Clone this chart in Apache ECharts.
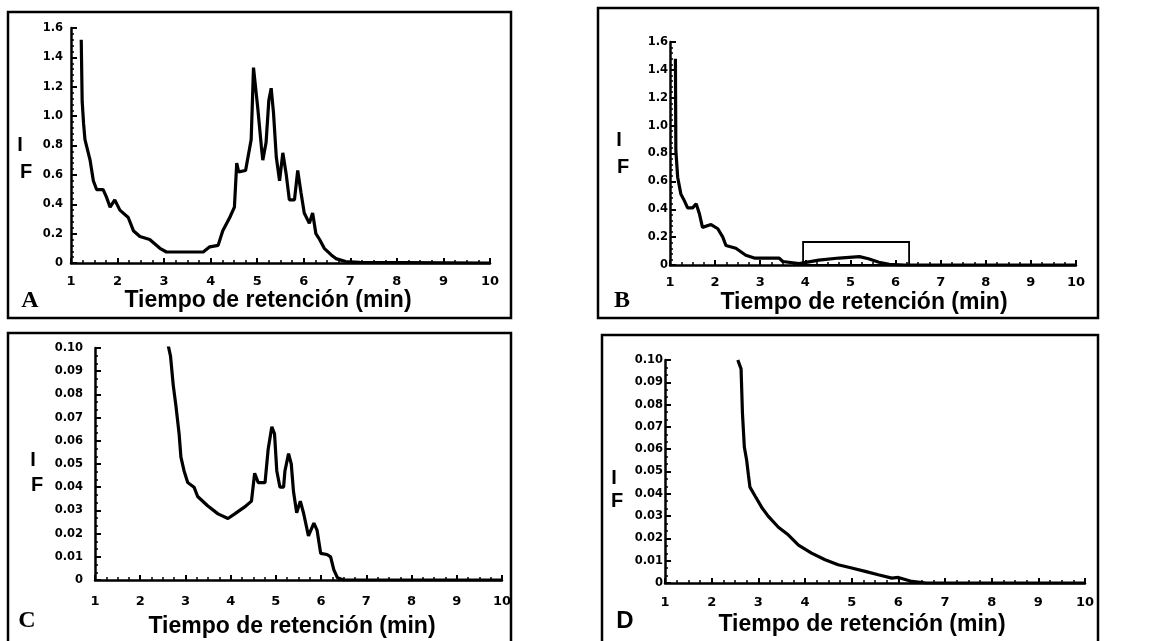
<!DOCTYPE html>
<html>
<head>
<meta charset="utf-8">
<script src="https://cdn.jsdelivr.net/npm/echarts@6/dist/echarts.min.js"></script>
<style>html,body{margin:0;padding:0;background:#fff}#c{width:1156px;height:641px}</style>
</head>
<body>
<div id="c"></div>
<script>
// ---- Data ----
const xTicks = [1, 2, 3, 4, 5, 6, 7, 8, 9, 10];
const yTicksAB = [0, 0.2, 0.4, 0.6, 0.8, 1.0, 1.2, 1.4, 1.6];
const yTicksCD = [0, 0.01, 0.02, 0.03, 0.04, 0.05, 0.06, 0.07, 0.08, 0.09, 0.10];

const timeA = [1.22, 1.24, 1.27, 1.30, 1.41, 1.48, 1.55, 1.69, 1.76, 1.84, 1.94, 2.05, 2.23, 2.34, 2.48, 2.69, 2.91, 3.05, 3.84, 3.98, 4.16, 4.26, 4.41, 4.51, 4.56, 4.60, 4.75, 4.87, 4.92, 4.96, 5.01, 5.09, 5.12, 5.19, 5.25, 5.30, 5.35, 5.41, 5.48, 5.55, 5.62, 5.69, 5.80, 5.87, 5.94, 6.01, 6.12, 6.19, 6.26, 6.34, 6.44, 6.59, 6.69, 6.90, 7.2, 10];
const ifA   = [1.52, 1.10, 0.95, 0.84, 0.70, 0.56, 0.50, 0.50, 0.45, 0.38, 0.43, 0.36, 0.31, 0.22, 0.18, 0.16, 0.10, 0.075, 0.075, 0.11, 0.12, 0.22, 0.31, 0.38, 0.68, 0.62, 0.63, 0.84, 1.33, 1.32, 1.06, 0.79, 0.70, 0.82, 1.11, 1.19, 1.02, 0.72, 0.56, 0.75, 0.61, 0.43, 0.43, 0.63, 0.48, 0.34, 0.27, 0.34, 0.20, 0.16, 0.10, 0.055, 0.03, 0.01, 0.004, 0];

const timeB = [1.12, 1.13, 1.17, 1.24, 1.32, 1.39, 1.50, 1.58, 1.65, 1.72, 1.91, 2.06, 2.17, 2.24, 2.46, 2.68, 2.87, 3.42, 3.50, 3.86, 4.30, 4.75, 5.20, 5.40, 5.63, 5.86, 6.2, 10];
const ifB   = [1.48, 0.82, 0.63, 0.51, 0.46, 0.41, 0.41, 0.44, 0.37, 0.27, 0.29, 0.26, 0.20, 0.14, 0.12, 0.07, 0.05, 0.05, 0.025, 0.01, 0.035, 0.05, 0.06, 0.045, 0.02, 0.005, 0, 0];
const boxB  = [3.95, 6.3, 0.165];

const timeC = [2.62, 2.67, 2.73, 2.79, 2.86, 2.90, 2.97, 3.05, 3.19, 3.27, 3.49, 3.72, 3.94, 4.09, 4.31, 4.46, 4.53, 4.61, 4.76, 4.83, 4.91, 4.97, 5.02, 5.09, 5.17, 5.20, 5.28, 5.34, 5.39, 5.46, 5.54, 5.61, 5.72, 5.84, 5.91, 5.99, 6.13, 6.21, 6.28, 6.36, 6.5, 10];
const ifC   = [0.101, 0.0965, 0.084, 0.075, 0.063, 0.053, 0.047, 0.042, 0.040, 0.036, 0.032, 0.0285, 0.0265, 0.0285, 0.0315, 0.034, 0.046, 0.042, 0.042, 0.0565, 0.066, 0.063, 0.047, 0.040, 0.040, 0.047, 0.0545, 0.050, 0.038, 0.029, 0.034, 0.029, 0.019, 0.0245, 0.0215, 0.0115, 0.011, 0.010, 0.0045, 0.001, 0, 0];

const timeD = [2.56, 2.63, 2.66, 2.70, 2.75, 2.79, 2.82, 2.93, 3.07, 3.21, 3.43, 3.64, 3.86, 4.14, 4.43, 4.71, 5.00, 5.29, 5.57, 5.86, 6.00, 6.29, 6.6, 10];
const ifD   = [0.100, 0.096, 0.076, 0.061, 0.055, 0.048, 0.043, 0.039, 0.034, 0.030, 0.025, 0.0216, 0.017, 0.0134, 0.0104, 0.0082, 0.0067, 0.0052, 0.0037, 0.0022, 0.0025, 0.0007, 0, 0];

const xTitle = 'Tiempo de retención (min)';
const panelLetters = ['A', 'B', 'C', 'D'];

// ---- Chart ----
const pairs = (xs, ys) => xs.map((x, i) => [x, ys[i]]);
const tickFont = 'DejaVu Sans';
const grids = [
  {left: 71, right: 666, top: 28, bottom: 378},
  {left: 670, right: 80, top: 42, bottom: 376},
  {left: 95, right: 654, top: 348, bottom: 61},
  {left: 665, right: 71, top: 360, bottom: 58}
];
const xLabelMargins = [12, 11, 15, 13];
const yLabelMargins = [8, 2, 12, 2];

function xAxis(i) {
  return {
    type: 'value', gridIndex: i, min: xTicks[0], max: xTicks[xTicks.length - 1], interval: 1,
    axisLine: {lineStyle: {color: '#000', width: 2.5}},
    axisTick: {show: true, inside: true, length: 5, lineStyle: {color: '#000', width: 2}},
    minorTick: {show: true, splitNumber: 4, length: 3, lineStyle: {color: '#000', width: 1.5}},
    splitLine: {show: false},
    axisLabel: {color: '#000', fontFamily: tickFont, fontWeight: 'bold', fontSize: 13, margin: xLabelMargins[i],
      formatter: v => String(v)}
  };
}
function yAxis(i) {
  const ab = i < 2;
  const ticks = ab ? yTicksAB : yTicksCD;
  return {
    type: 'value', gridIndex: i, min: 0, max: ticks[ticks.length - 1], interval: ab ? 0.2 : 0.01,
    axisLine: {show: true, lineStyle: {color: '#000', width: 2.5}},
    axisTick: {show: true, inside: true, length: 6, lineStyle: {color: '#000', width: 2}},
    minorTick: {show: true, splitNumber: ab ? 5 : 3, length: 3, lineStyle: {color: '#000', width: 1.5}},
    splitLine: {show: false},
    axisLabel: {color: '#000', fontFamily: tickFont, fontWeight: 'bold', fontSize: 11.5, margin: yLabelMargins[i],
      formatter: v => v === 0 ? '0' : (ab ? v.toFixed(1) : v.toFixed(2))}
  };
}
const lineStyle = {color: '#000', width: 3.2};
function series(i, xs, ys, extra) {
  return Object.assign({
    type: 'line', xAxisIndex: i, yAxisIndex: i, data: pairs(xs, ys),
    showSymbol: false, symbol: 'none', lineStyle: lineStyle, silent: true, animation: false, z: 3
  }, extra || {});
}

const frames = [
  {x: 8, y: 12, w: 503, h: 306},
  {x: 598, y: 8, w: 500, h: 310},
  {x: 8, y: 333, w: 503, h: 310},
  {x: 602, y: 335, w: 496, h: 308}
];
const titlePos = [[268, 301], [864, 303], [292, 627], [862, 625]];
const letterPos = [[30, 301], [622, 301], [27, 621], [625, 621]];
const letterFonts = ['Liberation Serif', 'Liberation Serif', 'Liberation Serif', 'Liberation Sans'];
const iPos = [[20, 145], [619, 140], [33, 460], [614, 478]];
const fPos = [[26, 172], [623, 167], [37, 485], [617, 501]];

const graphic = [];
frames.forEach(f => graphic.push({type: 'rect', shape: {x: f.x, y: f.y, width: f.w, height: f.h},
  style: {fill: 'none', stroke: '#000', lineWidth: 2.5}, silent: true, z: 1}));
titlePos.forEach(p => graphic.push({type: 'text', x: p[0], y: p[1],
  style: {text: xTitle, font: 'bold 23px "Liberation Sans"', fill: '#000', textAlign: 'center', textVerticalAlign: 'middle'}}));
letterPos.forEach((p, i) => graphic.push({type: 'text', x: p[0], y: p[1],
  style: {text: panelLetters[i], font: 'bold 24px "' + letterFonts[i] + '"', fill: '#000', textAlign: 'center', textVerticalAlign: 'middle'}}));
iPos.forEach(p => graphic.push({type: 'text', x: p[0], y: p[1],
  style: {text: 'I', font: 'bold 20px "Liberation Sans"', fill: '#000', textAlign: 'center', textVerticalAlign: 'middle'}}));
fPos.forEach(p => graphic.push({type: 'text', x: p[0], y: p[1],
  style: {text: 'F', font: 'bold 20px "Liberation Sans"', fill: '#000', textAlign: 'center', textVerticalAlign: 'middle'}}));

const option = {
  backgroundColor: '#fff',
  animation: false,
  grid: grids,
  xAxis: [0, 1, 2, 3].map(xAxis),
  yAxis: [0, 1, 2, 3].map(yAxis),
  series: [
    series(0, timeA, ifA),
    series(1, timeB, ifB, {
      markArea: {silent: true, itemStyle: {color: 'rgba(0,0,0,0)', borderColor: '#000', borderWidth: 1.8},
        data: [[{coord: [boxB[0], 0]}, {coord: [boxB[1], boxB[2]]}]]}
    }),
    series(2, timeC, ifC),
    series(3, timeD, ifD)
  ],
  graphic: graphic
};
const chart = echarts.init(document.getElementById('c'), null, {renderer: 'canvas'});
chart.setOption(option);
</script>
</body>
</html>
